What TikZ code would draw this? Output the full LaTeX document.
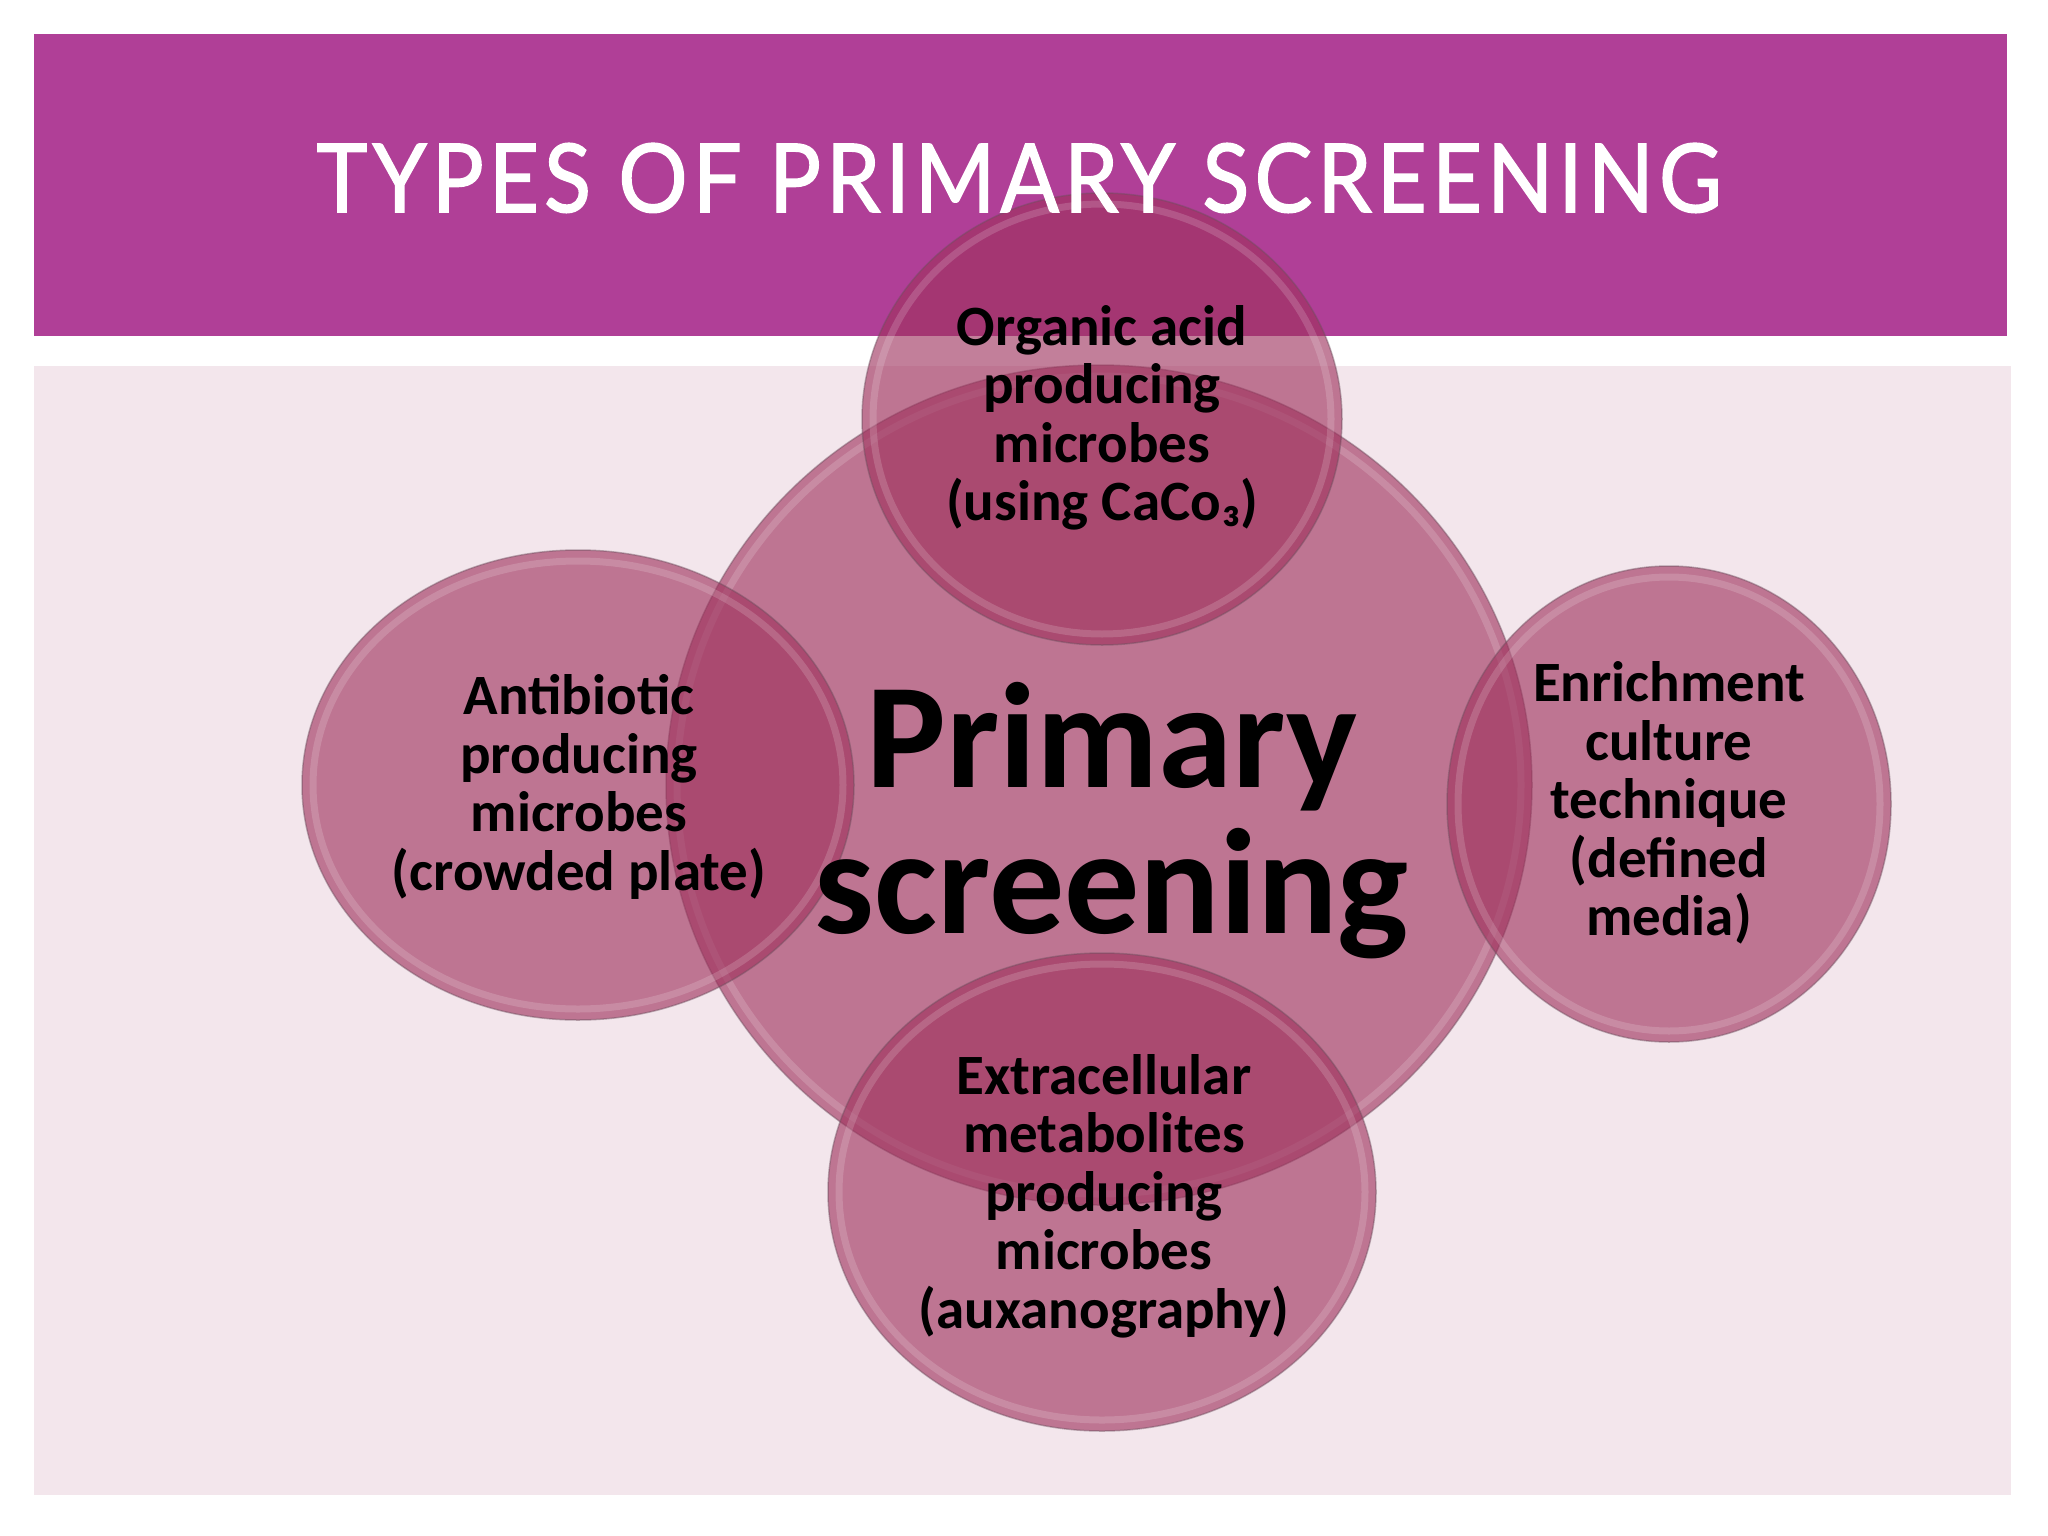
\documentclass[tikz,border=0pt]{standalone}
\usepackage{fontspec}
\setmainfont{Carlito}
\newfontfamily\titlefont[LetterSpace=6,FakeBold=1.6]{Lato}
\usetikzlibrary{shapes.geometric}
\definecolor{bandcol}{RGB}{176,63,151}
\definecolor{panelcol}{RGB}{243,230,236}
\definecolor{bubcol}{RGB}{158,49,92}
\definecolor{edgecol}{RGB}{110,80,95}
\begin{document}
\begin{tikzpicture}[x=1pt,y=-1pt,
  bubble/.style={ellipse, inner sep=0pt, fill=bubcol, fill opacity=0.62,
    draw=edgecol, draw opacity=0.45, line width=1.5pt},
  gloss/.style={draw=white, draw opacity=0.16, line width=7pt},
  bubtext/.style={font=\fontsize{57}{58.5}\selectfont\bfseries, align=center, text=black, inner sep=0pt},
  coretext/.style={font=\fontsize{150}{146}\selectfont\bfseries, align=center, text=black, inner sep=0pt},
  titletext/.style={font=\titlefont\fontsize{95}{95}\selectfont, text=white, inner sep=0pt, anchor=base}]
\useasboundingbox (0,0) rectangle (2048,1536);
\fill[white] (0,0) rectangle (2048,1536);
\fill[bandcol] (34,34) rectangle (2007,336);
\fill[panelcol] (34,366) rectangle (2011,1495);

\node[bubble, minimum width=866pt, minimum height=840pt] (core) at (1099,785) {};
\draw[gloss] (core.center) ellipse [x radius=422, y radius=409];
\node[bubble, minimum width=480pt, minimum height=452pt] (top) at (1102,419) {};
\draw[gloss] (top.center) ellipse [x radius=229, y radius=215];
\node[bubble, minimum width=552pt, minimum height=470pt] (left) at (578,785) {};
\draw[gloss] (left.center) ellipse [x radius=265, y radius=224];
\node[bubble, minimum width=444pt, minimum height=476pt] (right) at (1669,804) {};
\draw[gloss] (right.center) ellipse [x radius=211, y radius=227];
\node[bubble, minimum width=548pt, minimum height=478pt] (bottom) at (1102,1192) {};
\draw[gloss] (bottom.center) ellipse [x radius=263, y radius=228];

\node[coretext] (coretxt) at (1112,821) {Primary\\screening};
\node[bubtext] (toptxt) at (1102,418) {Organic acid\\producing\\microbes\\(using CaCo₃)};
\node[bubtext] (lefttxt) at (579,787) {Antibiotic\\producing\\microbes\\(crowded plate)};
\node[bubtext] (righttxt) at (1669,803) {Enrichment\\culture\\technique\\(defined\\media)};
\node[bubtext] (bottomtxt) at (1104,1196) {Extracellular\\metabolites\\producing\\microbes\\(auxanography)};

\node[titletext] (title) at (1019,212) {\scalebox{0.91}[1]{TYPES OF PRIMARY SCREENING}};
\end{tikzpicture}
\end{document}
